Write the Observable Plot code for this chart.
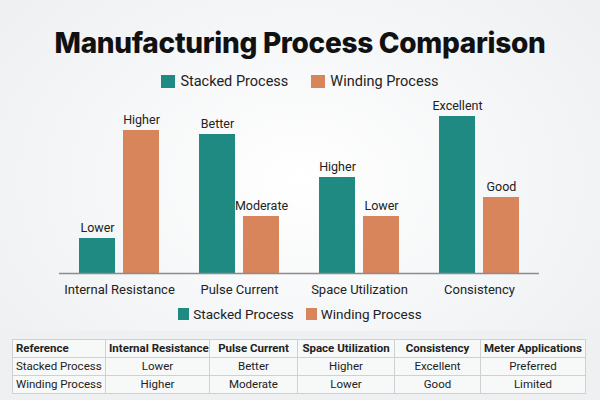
<!DOCTYPE html>
<html>
<head>
<meta charset="utf-8">
<script src="https://cdn.jsdelivr.net/npm/d3@7"></script>
<script src="https://cdn.jsdelivr.net/npm/@observablehq/plot@0.6"></script>
<style>
  html, body { margin: 0; padding: 0; }
  body {
    width: 600px; height: 400px; overflow: hidden; position: relative;
    background: radial-gradient(ellipse at 50% 45%, #ffffff 0%, #f6f7f8 45%, #eceef0 100%);
    font-family: Roboto, "Noto Sans", sans-serif; color: #222;
  }
  #title {
    position: absolute; left: 0; top: 23px; width: 600px; text-align: center;
    font-family: Inter, sans-serif; font-weight: 800; font-size: 28px; line-height: 40px;
    color: #111; letter-spacing: -0.3px;
  }
  .legend {
    position: absolute; left: 0; width: 600px; display: flex; justify-content: center;
    align-items: center; font-size: 14.5px; color: #222;
  }
  .legend .item { display: flex; align-items: center; }
  .legend .sw { display: inline-block; margin-right: 5px; }
  #legendTop { top: 70px; height: 22px; gap: 23px; }
  #legendTop .sw { width: 14px; height: 13px; }
  #legendBot { top: 303px; height: 22px; gap: 12px; font-size: 13.5px; }
  #legendBot .sw { width: 11px; height: 12px; margin-right: 4px; }
  #chart { position: absolute; left: 0; top: 94px; }
  #tablePanel {
    position: absolute; left: 0; top: 331px; width: 600px; height: 69px;
    background: #eef0f1;
  }
  table {
    position: absolute; left: 12px; top: 8px; border-collapse: collapse; table-layout: fixed;
    width: 573px; font-size: 11.5px; background: #f7f8f8; border: 1px solid #bfc3c6;
  }
  td, th { border: 1px solid #cdd1d4; padding: 0 3px; height: 17px; line-height: 17px; text-align: center; white-space: nowrap; overflow: hidden; color: #222; }
  th { font-weight: 700; }
  td:first-child, th:first-child { text-align: left; }
</style>
</head>
<body>
<div id="title">Manufacturing Process Comparison</div>
<div id="legendTop" class="legend"></div>
<div id="chart"></div>
<div id="legendBot" class="legend"></div>
<div id="tablePanel"><table id="tbl"></table></div>
<script>
const categories = ["Internal Resistance", "Pulse Current", "Space Utilization", "Consistency"];
const seriesNames = ["Stacked Process", "Winding Process"];
const colors = ["#1f8a82", "#d9855b"];
// relative bar heights (qualitative scores)
const stackedValues = [35, 139, 96, 157];
const windingValues = [143, 57, 57, 76];
const stackedLabels = ["Lower", "Better", "Higher", "Excellent"];
const windingLabels = ["Higher", "Moderate", "Lower", "Good"];
const tableHeader = ["Reference", "Internal Resistance", "Pulse Current", "Space Utilization", "Consistency", "Meter Applications"];
const tableStacked = ["Stacked Process", "Lower", "Better", "Higher", "Excellent", "Preferred"];
const tableWinding = ["Winding Process", "Higher", "Moderate", "Lower", "Good", "Limited"];
const colWidths = [93, 104, 88, 97, 86, 105];

const stacked = categories.map((c, i) => ({category: c, value: stackedValues[i], label: stackedLabels[i]}));
const winding = categories.map((c, i) => ({category: c, value: windingValues[i], label: windingLabels[i]}));

const chart = Plot.plot({
  width: 600,
  height: 208,
  marginLeft: 59,
  marginRight: 61,
  marginTop: 19,
  marginBottom: 29,
  style: {background: "transparent", fontFamily: "Roboto, sans-serif"},
  x: {domain: categories, paddingInner: 1/3, paddingOuter: 1/6, label: null},
  y: {domain: [0, 160], axis: null},
  marks: [
    Plot.barY(stacked, {x: "category", y: "value", fill: colors[0], insetRight: 44}),
    Plot.barY(winding, {x: "category", y: "value", fill: colors[1], insetLeft: 44}),
    Plot.text(stacked, {x: "category", y: "value", text: "label", dx: -22, dy: -7, fontSize: 12.5, fill: "#222", lineAnchor: "bottom", textAnchor: "middle"}),
    Plot.text(winding, {x: "category", y: "value", text: "label", dx: 22, dy: -7, fontSize: 12.5, fill: "#222", lineAnchor: "bottom", textAnchor: "middle"}),
    Plot.ruleY([0], {stroke: "#8a8c8e", strokeWidth: 1.5}),
    Plot.axisX({anchor: "bottom", tickSize: 0, tickPadding: 11, fontSize: 13, fill: "#222", label: null})
  ]
});
document.getElementById("chart").appendChild(chart);

function buildLegend(id) {
  const el = document.getElementById(id);
  seriesNames.forEach((name, i) => {
    const item = document.createElement("span");
    item.className = "item";
    const sw = document.createElement("span");
    sw.className = "sw";
    sw.style.background = colors[i];
    item.appendChild(sw);
    item.appendChild(document.createTextNode(name));
    el.appendChild(item);
  });
}
buildLegend("legendTop");
buildLegend("legendBot");

const tbl = document.getElementById("tbl");
const colgroup = document.createElement("colgroup");
colWidths.forEach(w => { const c = document.createElement("col"); c.style.width = w + "px"; colgroup.appendChild(c); });
tbl.appendChild(colgroup);
[tableHeader, tableStacked, tableWinding].forEach((row, r) => {
  const tr = document.createElement("tr");
  row.forEach(v => {
    const cell = document.createElement(r === 0 ? "th" : "td");
    cell.textContent = v;
    tr.appendChild(cell);
  });
  tbl.appendChild(tr);
});
</script>
</body>
</html>
